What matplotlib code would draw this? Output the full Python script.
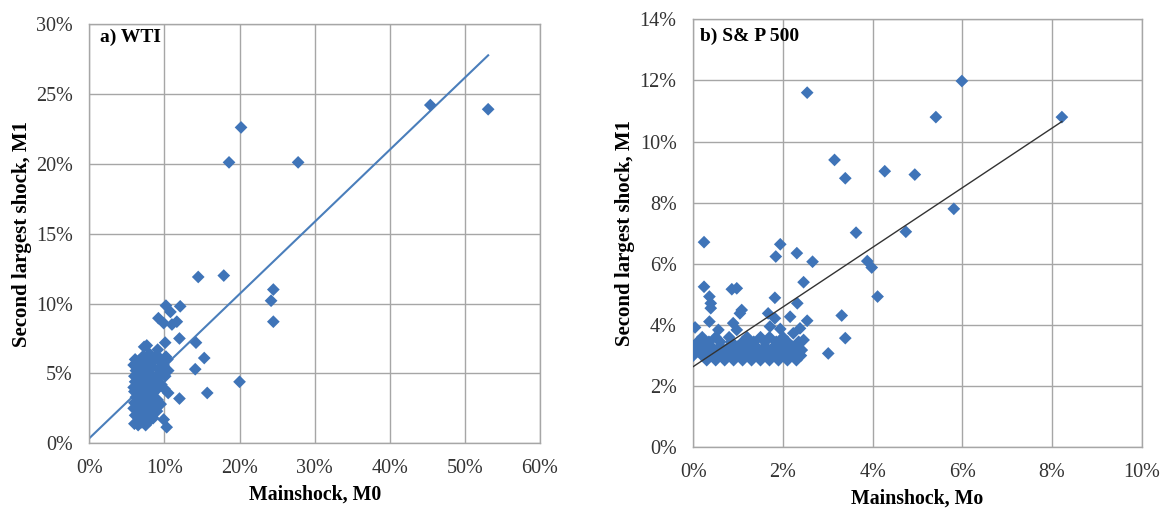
import numpy as np
import matplotlib
matplotlib.use("Agg")
import matplotlib.pyplot as plt
from matplotlib.ticker import PercentFormatter

# a) WTI : mainshock M0 (%) et second plus grand choc M1 (%)
wti_m0 = [
    6.0, 6.1, 5.9, 6.0, 6.2, 6.0, 5.9, 6.1, 6.0, 6.2, 5.9, 6.1,
    6.5, 6.6, 6.4, 6.5, 6.7, 6.5, 6.4, 6.6, 6.5, 6.7, 6.4, 6.6,
    7.0, 7.1, 6.9, 7.0, 7.2, 7.0, 6.9, 7.1, 7.0, 7.2, 6.9, 7.1, 7.3,
    7.5, 7.6, 7.4, 7.5, 7.7, 7.5, 7.4, 7.6, 7.5, 7.7, 7.4, 7.6,
    8.0, 8.1, 7.9, 8.0, 8.2, 8.0, 7.9, 8.1, 8.0,
    8.5, 8.6, 8.4, 8.5, 8.7, 8.5, 8.4, 8.6,
    9.0, 9.1, 8.9, 9.0, 9.2, 9.0, 9.1,
    9.5, 9.6, 9.4, 9.5,
    10.0, 10.1, 9.9, 10.2,
    10.5, 10.4,
    53.1, 45.4, 20.2, 18.6, 27.8, 14.5, 17.9, 24.5, 24.2, 24.5,
    10.2, 12.1, 10.8, 9.2, 9.9, 11.0, 11.65, 12.0, 14.2, 7.65,
    10.1, 15.3, 14.1, 20.0, 15.7, 12.0, 10.5, 9.9, 10.3,
]
wti_m1 = [
    1.4, 2.0, 2.5, 2.9, 3.3, 3.7, 4.0, 4.4, 4.8, 5.2, 5.6, 6.0,
    1.3, 1.8, 2.3, 2.7, 3.1, 3.5, 3.9, 4.3, 4.7, 5.1, 5.5, 5.9,
    1.5, 2.1, 2.6, 3.0, 3.4, 3.8, 4.2, 4.6, 5.0, 5.4, 5.8, 6.2, 6.9,
    1.3, 1.9, 2.4, 2.8, 3.2, 3.6, 4.1, 4.5, 4.9, 5.3, 5.7, 6.1,
    1.6, 2.2, 2.7, 3.3, 3.9, 4.4, 5.0, 5.6, 6.4,
    1.8, 2.5, 3.0, 3.6, 4.3, 4.8, 5.5, 6.0,
    2.3, 3.1, 3.8, 4.6, 5.3, 6.3, 6.7,
    2.8, 4.2, 5.0, 5.8,
    3.9, 4.8, 5.6, 6.2,
    5.2, 6.0,
    23.9, 24.2, 22.6, 20.1, 20.1, 11.9, 12.0, 11.0, 10.2, 8.7,
    9.85, 9.8, 9.4, 8.95, 8.6, 8.5, 8.7, 7.5, 7.2, 7.0,
    7.2, 6.1, 5.3, 4.4, 3.6, 3.2, 3.6, 1.7, 1.15,
]

# b) S&P 500
sp_m0 = [
    0.3, 0.5, 0.7, 0.9, 1.1, 1.3, 1.5, 1.7, 1.9, 2.1, 2.3,
    0.0, 0.2, 0.4, 0.6, 0.8, 1.0, 1.2, 1.4, 1.6, 1.8, 2.0, 2.2, 2.4,
    0.1, 0.3, 0.5, 0.7, 0.9, 1.1, 1.3, 1.5, 1.7, 1.9, 2.1, 2.3,
    0.0, 0.2, 0.4, 0.6, 0.8, 1.0, 1.2, 1.4, 1.6, 1.8, 2.0, 2.2,
    0.1, 0.35, 0.6, 0.85, 1.1, 1.35, 1.6, 1.85, 2.1, 2.35,
    0.2, 0.5, 0.8, 1.2, 1.5, 1.7, 2.0,
    0.04, 0.36, 0.56, 0.89, 0.97, 1.71, 1.94, 2.38, 2.23, 2.46,
    2.31, 2.42, 3.01, 3.39, 3.31, 2.54, 2.16, 1.82, 1.67, 2.32,
    2.46, 1.82, 1.04, 1.08, 0.39, 0.39, 0.36, 0.97, 0.86, 0.24,
    1.84, 2.31, 2.66, 1.94, 0.24,
    2.54, 5.99, 5.41, 8.22, 3.15, 3.39, 4.27, 4.94, 5.81, 4.74,
    3.63, 3.88, 3.98, 4.11,
]
sp_m1 = [
    2.85, 2.85, 2.85, 2.85, 2.85, 2.85, 2.85, 2.85, 2.85, 2.85, 2.85,
    3.0, 3.0, 3.0, 3.0, 3.0, 3.0, 3.0, 3.0, 3.0, 3.0, 3.0, 3.0, 3.0,
    3.15, 3.15, 3.15, 3.15, 3.15, 3.15, 3.15, 3.15, 3.15, 3.15, 3.15, 3.15,
    3.3, 3.3, 3.3, 3.3, 3.3, 3.3, 3.3, 3.3, 3.3, 3.3, 3.3, 3.3,
    3.45, 3.45, 3.45, 3.45, 3.45, 3.45, 3.45, 3.45, 3.45, 3.45,
    3.6, 3.6, 3.6, 3.6, 3.6, 3.6, 3.6,
    3.92, 4.11, 3.84, 4.06, 3.84, 3.95, 3.87, 3.89, 3.73, 3.51,
    3.29, 3.18, 3.07, 3.57, 4.31, 4.14, 4.27, 4.22, 4.38, 4.71,
    5.4, 4.89, 4.38, 4.49, 4.55, 4.71, 4.93, 5.2, 5.17, 5.25,
    6.24, 6.35, 6.07, 6.64, 6.71,
    11.6, 11.98, 10.8, 10.8, 9.4, 8.8, 9.03, 8.92, 7.8, 7.05,
    7.02, 6.09, 5.88, 4.93,
]

# Droites de tendance (intercept %, pente)
wti_trend = (0.36, 0.516)
sp_trend = (2.64, 0.975)

blue = "#3f74b8"
grid_c = "#a6a6a6"
plt.rcParams["font.family"] = ["Liberation Serif", "DejaVu Serif"]

fig = plt.figure(figsize=(11.63, 5.13), dpi=100)
ax1 = fig.add_axes([0.0768, 0.1359, 0.3875, 0.8173])
ax2 = fig.add_axes([0.5961, 0.1281, 0.3856, 0.8343])


def style(ax, xmax, xstep, ymax, ystep, xlabel, tag, tag_pos):
    ax.set_xlim(0, xmax)
    ax.set_ylim(0, ymax)
    ax.set_xticks(np.arange(0, xmax + 0.01, xstep))
    ax.set_yticks(np.arange(0, ymax + 0.01, ystep))
    ax.xaxis.set_major_formatter(PercentFormatter(decimals=0))
    ax.yaxis.set_major_formatter(PercentFormatter(decimals=0))
    ax.grid(True, color=grid_c, linewidth=1.0)
    ax.set_axisbelow(True)
    for s in ax.spines.values():
        s.set_color(grid_c)
        s.set_linewidth(1.0)
    ax.tick_params(length=0, labelsize=14.5, colors="#333333")
    ax.tick_params(axis="x", pad=11)
    ax.tick_params(axis="y", pad=12)
    ax.set_xlabel(xlabel, fontsize=14.3, fontweight="bold", labelpad=5)
    ax.set_ylabel("Second largest shock, M1", fontsize=15, fontweight="bold", labelpad=3)
    ax.text(tag_pos[0], tag_pos[1], tag, transform=ax.transAxes, fontsize=14,
            fontweight="bold", va="center", ha="left")


# Panneau a)
ax1.scatter(wti_m0, wti_m1, marker="D", s=42, color=blue, edgecolors="none", zorder=3)
xs = np.array([0, max(wti_m0)])
ax1.plot(xs, wti_trend[0] + wti_trend[1] * xs, color="#4a7ebb", linewidth=1.5, zorder=2)
style(ax1, 60, 10, 30, 5, "Mainshock, M0", "a) WTI", (0.024, 0.968))

# Panneau b)
ax2.scatter(sp_m0, sp_m1, marker="D", s=42, color=blue, edgecolors="none", zorder=3)
xs = np.array([0, max(sp_m0)])
ax2.plot(xs, sp_trend[0] + sp_trend[1] * xs, color="#333333", linewidth=1.0, zorder=4)
style(ax2, 10, 2, 14, 2, "Mainshock, Mo", "b) S& P 500", (0.015, 0.961))

fig.savefig("out.png", dpi=100)
